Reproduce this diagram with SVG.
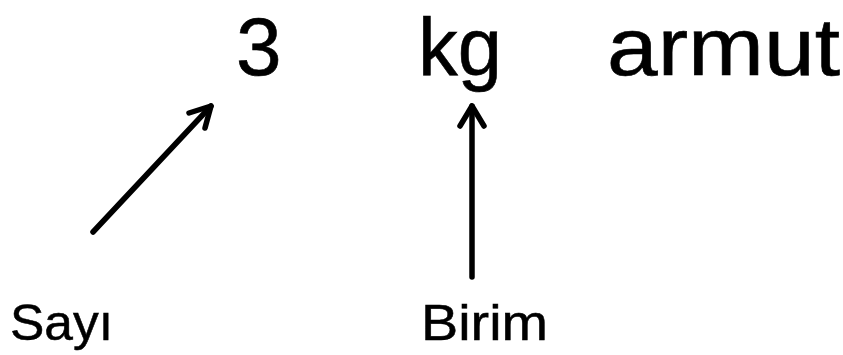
<svg xmlns="http://www.w3.org/2000/svg" width="843" height="355" viewBox="0 0 843 355">
<style>
.big{font-family:"Liberation Sans","Noto Sans",sans-serif;font-size:82px;fill:#000;stroke:#000;stroke-width:0.6}
.lbl{font-family:"Liberation Sans","Noto Sans",sans-serif;font-size:50px;fill:#000;stroke:#000;stroke-width:0.5}
.conn{fill:none;stroke:#000;stroke-width:5.5;stroke-linecap:round;stroke-linejoin:round}
</style>
<rect width="843" height="355" fill="#fff"/>
<g id="num"><text class="big" x="236" y="75">3</text></g>
<g id="unit"><text class="big" x="418" y="75" textLength="84" lengthAdjust="spacingAndGlyphs">kg</text></g>
<g id="noun"><text class="big" x="607" y="75" textLength="233" lengthAdjust="spacingAndGlyphs">armut</text></g>
<g id="sayi"><text class="lbl" x="10" y="340" textLength="103" lengthAdjust="spacingAndGlyphs">Sayı</text></g>
<g id="birim"><text class="lbl" x="421" y="340" textLength="127" lengthAdjust="spacingAndGlyphs">Birim</text></g>
<g id="connectors">
<path class="conn" d="M93,232 L211,106"/>
<path class="conn" d="M189,113 L211,106 L205,128"/>
<path class="conn" d="M472,277 L472,106"/>
<path class="conn" d="M460,126 L472,106 L484,126"/>
</g>
</svg>
